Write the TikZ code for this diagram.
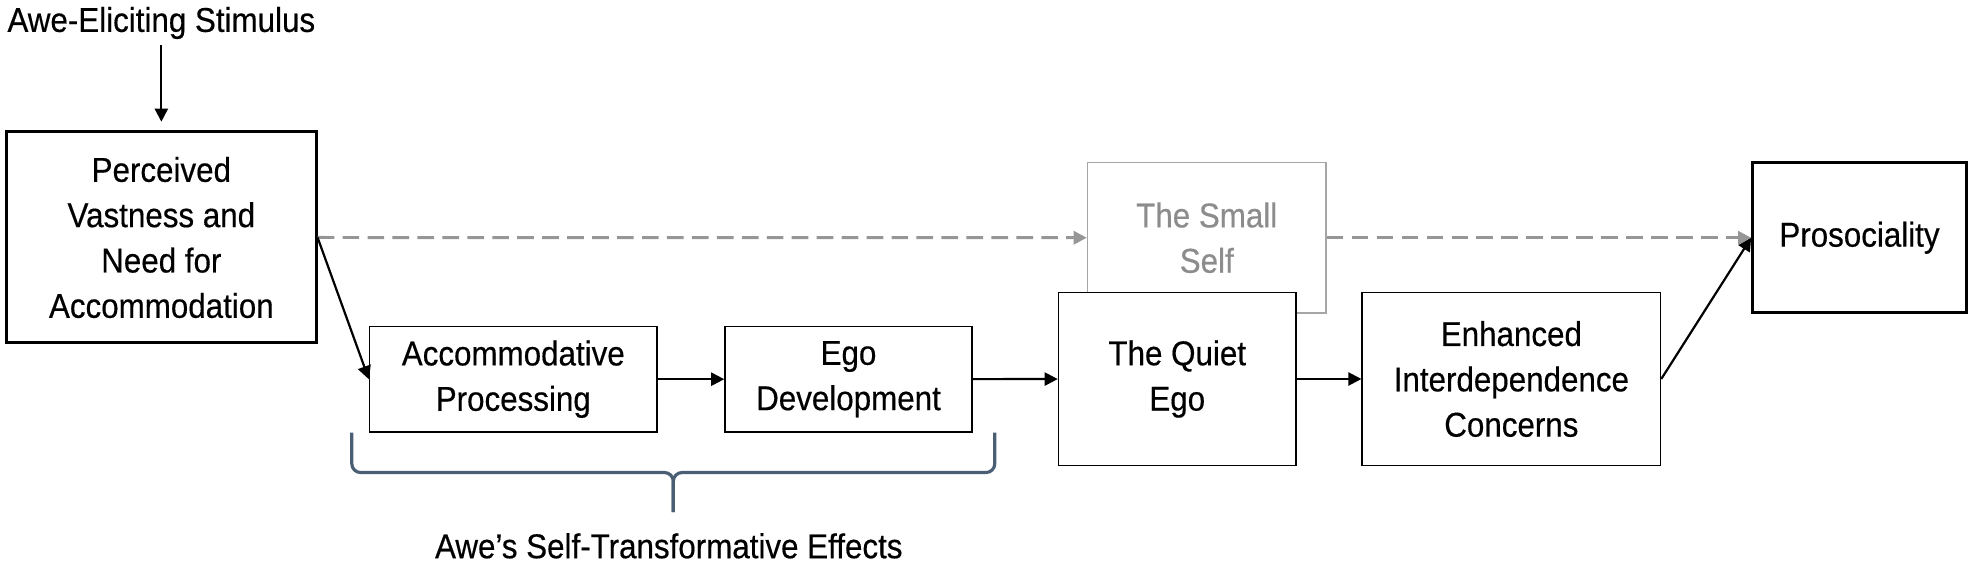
\documentclass[tikz,border=0pt]{standalone}
\usepackage{fontspec}
\setmainfont{Liberation Sans}[FakeStretch=0.91,FakeBold=0.4]
\usepackage{tikz}
\usetikzlibrary{arrows.meta,positioning,calc}
\definecolor{smallgray}{RGB}{166,166,166}
\definecolor{textgray}{RGB}{140,140,140}
\definecolor{dashgray}{RGB}{150,150,150}
\definecolor{bracegray}{RGB}{74,94,116}

\begin{document}
\begin{tikzpicture}[
    every node/.style={font=\fontsize{19.6}{25.8}\selectfont, align=center},
    box/.style={draw, line width=0.85pt, inner sep=0pt},
    boldbox/.style={draw, line width=1.7pt, inner sep=0pt},
    arr/.style={line width=1.25pt, -{Triangle[length=7.5pt,width=7.5pt]}},
    dasharr/.style={dashgray, line width=1.7pt, dash pattern=on 9.5pt off 4.7pt, -{Triangle[length=7.5pt,width=7.5pt]}},
    bracestyle/.style={bracegray, line width=1.8pt, rounded corners=5pt}
]
    \useasboundingbox (0,0) rectangle (39.46,11.38);

    % Stimulus and first box
    \node (stim) at (3.227,10.92) {Awe-Eliciting Stimulus};
    \node[boldbox, minimum width=6.19cm, minimum height=4.22cm] (perc) at (3.227,6.63) {Perceived\\Vastness and\\Need for\\Accommodation};

    % Upper row
    \node[box, draw=smallgray, text=textgray, minimum width=4.77cm, minimum height=3.01cm] (small) at (24.135,6.625) {The Small\\Self};
    \node[boldbox, minimum width=4.274cm, minimum height=3.01cm] (pro) at (37.19,6.625) {Prosociality};

    % Lower row
    \node[box, minimum width=5.75cm, minimum height=2.104cm] (accom) at (10.266,3.796) {Accommodative\\Processing};
    \node[box, minimum width=4.94cm, minimum height=2.104cm] (egodev) at (16.97,3.796) {Ego\\Development};
    \node[box, fill=white, minimum width=4.75cm, minimum height=3.46cm] (quiet) at (23.545,3.8) {The Quiet\\Ego};
    \node[box, minimum width=5.966cm, minimum height=3.46cm] (enh) at (30.227,3.8) {Enhanced\\Interdependence\\Concerns};

    % Arrows
    \draw[arr, shorten >=5pt] (stim) -- (perc);
    \draw[dasharr] (perc.east) -- (small.west);
    \draw[dasharr] (small.east) -- (pro.west);
    \draw[arr] (perc.east) -- (accom.west);
    \draw[arr] (accom) -- (egodev);
    \draw[arr] (egodev) -- (quiet);
    \draw[arr] (quiet) -- (enh);
    \draw[arr] (enh.east) -- (pro.west);

    % Brace
    \coordinate (bl) at ([xshift=-0.34cm]accom.south west);
    \coordinate (br) at ([xshift=0.44cm]egodev.south east);
    \coordinate (bmid) at ($(bl)!0.5!(br)+(0,-0.8)$);
    \draw[bracestyle] (bl) |- (bmid) -- ++(0,-0.79) coordinate (btip);
    \draw[bracestyle] (br) |- (bmid) -- ++(0,-0.79);
    \node[below=0.3cm of btip, xshift=-0.09cm] (effects) {Awe’s Self-Transformative Effects};
\end{tikzpicture}
\end{document}
